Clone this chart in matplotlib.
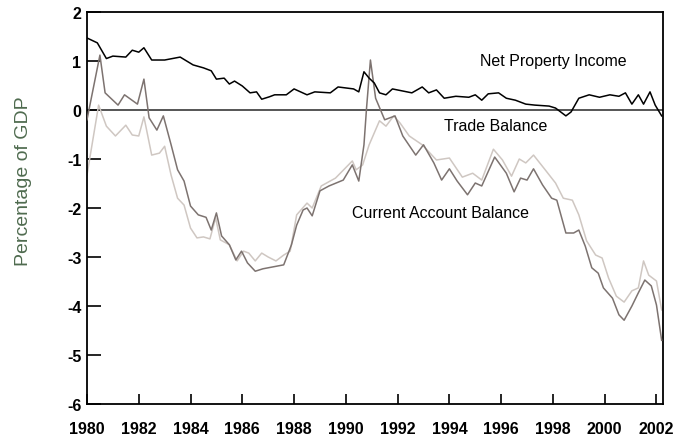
import matplotlib
matplotlib.use("Agg")
import matplotlib.pyplot as plt

plt.rcParams["axes.unicode_minus"] = False

# Net property income (black)
npi_years = [1980.0, 1980.4, 1980.75, 1981.0, 1981.5, 1981.75, 1982.0, 1982.2, 1982.5, 1983.0,
             1983.6, 1984.1, 1984.5, 1984.8, 1985.0, 1985.3, 1985.5, 1985.7, 1986.0, 1986.3,
             1986.55, 1986.75, 1987.05, 1987.25, 1987.7, 1988.0, 1988.5, 1988.8, 1989.4, 1989.7,
             1990.3, 1990.5, 1990.7, 1990.9, 1991.1, 1991.3, 1991.55, 1991.8, 1992.55, 1992.95,
             1993.2, 1993.5, 1993.8, 1994.25, 1994.75, 1995.0, 1995.25, 1995.5, 1995.9, 1996.2,
             1996.55, 1996.95, 1997.3, 1997.85, 1998.1, 1998.5, 1998.7, 1999.0, 1999.4, 1999.8,
             2000.2, 2000.55, 2000.8, 2001.05, 2001.3, 2001.5, 2001.75, 2001.95, 2002.2]
npi_values = [1.47, 1.37, 1.05, 1.1, 1.08, 1.22, 1.18, 1.27, 1.02, 1.02,
              1.08, 0.92, 0.86, 0.8, 0.63, 0.65, 0.53, 0.59, 0.49, 0.35,
              0.37, 0.22, 0.27, 0.31, 0.31, 0.43, 0.31, 0.37, 0.35, 0.47,
              0.43, 0.37, 0.78, 0.65, 0.55, 0.35, 0.31, 0.43, 0.35, 0.47,
              0.35, 0.41, 0.24, 0.28, 0.26, 0.31, 0.2, 0.33, 0.35, 0.24,
              0.2, 0.12, 0.1, 0.08, 0.04, -0.12, -0.04, 0.24, 0.31, 0.26,
              0.31, 0.28, 0.35, 0.12, 0.31, 0.12, 0.37, 0.1, -0.12]

# Current account balance (dark grey)
cab_years = [1980.0, 1980.5, 1980.7, 1981.2, 1981.45, 1981.95, 1982.2, 1982.4, 1982.7, 1982.95,
             1983.25, 1983.5, 1983.75, 1984.0, 1984.3, 1984.6, 1984.8, 1985.0, 1985.2, 1985.5,
             1985.75, 1985.97, 1986.2, 1986.5, 1986.8, 1987.6, 1987.9, 1988.1, 1988.35, 1988.5,
             1988.7, 1989.0, 1989.35, 1989.9, 1990.25, 1990.5, 1990.7, 1990.8, 1990.95, 1991.15,
             1991.5, 1991.9, 1992.2, 1992.7, 1993.0, 1993.4, 1993.7, 1994.0, 1994.3, 1994.7,
             1995.0, 1995.25, 1995.75, 1996.2, 1996.5, 1996.75, 1997.0, 1997.25, 1997.6, 1997.95,
             1998.15, 1998.5, 1998.8, 1999.0, 1999.25, 1999.5, 1999.75, 1999.95, 2000.3, 2000.55,
             2000.75, 2001.05, 2001.3, 2001.55, 2001.8, 2002.0, 2002.2]
cab_values = [-0.2, 1.12, 0.35, 0.1, 0.31, 0.12, 0.63, -0.16, -0.41, -0.12,
              -0.71, -1.22, -1.45, -1.96, -2.14, -2.19, -2.45, -2.1, -2.57, -2.75,
              -3.06, -2.88, -3.12, -3.29, -3.24, -3.16, -2.75, -2.35, -2.04, -2.0,
              -2.16, -1.65, -1.55, -1.43, -1.12, -1.45, -0.71, 0.04, 1.02, 0.24,
              -0.2, -0.12, -0.53, -0.92, -0.71, -1.08, -1.43, -1.2, -1.45, -1.73,
              -1.49, -1.55, -0.96, -1.29, -1.67, -1.39, -1.43, -1.2, -1.53, -1.8,
              -1.84, -2.51, -2.51, -2.45, -2.78, -3.22, -3.33, -3.63, -3.84, -4.18,
              -4.29, -4.0, -3.73, -3.47, -3.59, -3.98, -4.7]

# Trade balance (light grey)
tb_years = [1980.0, 1980.45, 1980.75, 1981.1, 1981.5, 1981.75, 1982.0, 1982.2, 1982.5, 1982.8,
            1983.0, 1983.25, 1983.5, 1983.75, 1984.0, 1984.25, 1984.5, 1984.75, 1984.97, 1985.15,
            1985.5, 1985.8, 1986.05, 1986.25, 1986.5, 1986.75, 1987.0, 1987.3, 1987.6, 1987.85,
            1988.1, 1988.5, 1988.7, 1989.05, 1989.6, 1990.25, 1990.4, 1990.65, 1990.9, 1991.3,
            1991.55, 1991.85, 1992.1, 1992.45, 1992.95, 1993.5, 1994.0, 1994.5, 1994.9, 1995.25,
            1995.7, 1996.05, 1996.4, 1996.7, 1996.95, 1997.25, 1997.7, 1998.1, 1998.4, 1998.75,
            1999.0, 1999.3, 1999.65, 1999.9, 2000.15, 2000.45, 2000.75, 2001.05, 2001.3, 2001.5,
            2001.7, 2002.0, 2002.2]
tb_values = [-1.33, 0.1, -0.33, -0.53, -0.31, -0.51, -0.53, -0.14, -0.92, -0.88,
             -0.74, -1.33, -1.8, -1.94, -2.41, -2.61, -2.59, -2.63, -2.2, -2.65,
             -2.75, -3.08, -2.88, -2.92, -3.08, -2.92, -3.0, -3.08, -2.96, -2.88,
             -2.14, -1.9, -2.0, -1.55, -1.39, -1.04, -1.22, -1.12, -0.71, -0.22,
             -0.33, -0.12, -0.27, -0.53, -0.71, -1.02, -0.98, -1.37, -1.29, -1.43,
             -0.8, -1.02, -1.35, -1.0, -1.08, -0.92, -1.22, -1.49, -1.8, -1.84,
             -2.14, -2.67, -2.96, -3.02, -3.43, -3.8, -3.92, -3.69, -3.63, -3.08,
             -3.37, -3.49, -4.08]

xticks = list(range(1980, 2003, 2))
yticks = list(range(-6, 3))

tick_font = ["Liberation Sans", "DejaVu Sans"]
text_font = ["Liberation Sans", "DejaVu Sans"]

fig = plt.figure(figsize=(6.87, 4.39), dpi=100)
ax = fig.add_axes([0.1266, 0.0774, 0.8384, 0.8930])

ax.axhline(0, color="#555555", lw=1.4, zorder=1)
ax.plot(tb_years, tb_values, color="#cfc7c2", lw=1.1, zorder=2)
ax.plot(cab_years, cab_values, color="#7d7370", lw=1.1, zorder=3)
ax.plot(npi_years, npi_values, color="black", lw=1.1, zorder=4)

ax.set_xlim(1980, 2002.25)
ax.set_ylim(-6, 2)
ax.set_xticks(xticks)
ax.set_yticks(yticks)
ax.tick_params(axis="x", direction="in", length=7, width=1.2, pad=12)
ax.tick_params(axis="y", direction="in", length=10, width=1.2, pad=4)
for lab in ax.get_xticklabels() + ax.get_yticklabels():
    lab.set_family(tick_font)
    lab.set_fontweight("bold")
    lab.set_fontsize(11.5)
for s in ax.spines.values():
    s.set_linewidth(1.3)

ax.set_ylabel("Percentage of GDP", color="#4f6b4f", fontsize=14,
              family=text_font)
ax.yaxis.set_label_coords(-0.095, 0.57)

ax.text(1998.0, 1.02, "Net Property Income", ha="center", va="center",
        fontsize=11.5, family=text_font)
ax.text(1993.8, -0.31, "Trade Balance", ha="left", va="center",
        fontsize=11.5, family=text_font)
ax.text(1990.25, -2.1, "Current Account Balance", ha="left", va="center",
        fontsize=11.5, family=text_font)

fig.savefig("out.png", dpi=100)
